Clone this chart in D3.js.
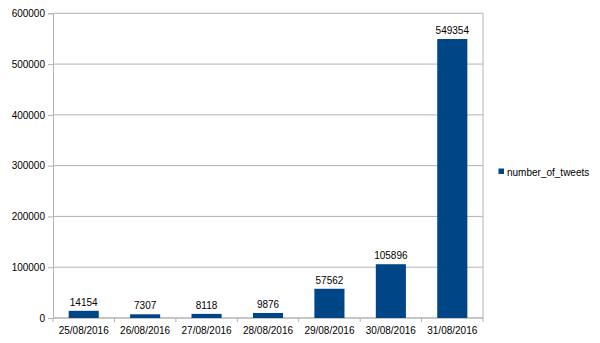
<!DOCTYPE html>
<html><head><meta charset="utf-8">
<script src="https://cdn.jsdelivr.net/npm/d3@7"></script>
<style>body{margin:0;background:#fff}svg{display:block;font-family:"Liberation Sans",Arial,sans-serif}</style>
</head><body><svg id="c" width="600" height="343"></svg>
<script>
const categories = ["25/08/2016","26/08/2016","27/08/2016","28/08/2016","29/08/2016","30/08/2016","31/08/2016"];
const values = [14154, 7307, 8118, 9876, 57562, 105896, 549354];
const yTicks = [0, 100000, 200000, 300000, 400000, 500000, 600000];
const seriesName = "number_of_tweets";

const svg = d3.select("#c");
const L = 53, R = 483, T = 13.3, B = 318;
const x = d3.scaleBand().domain(categories).range([L, R]).paddingInner(0.51).paddingOuter(0.255);
const xc = d3.scaleBand().domain(categories).range([L, R]);
const y = d3.scaleLinear().domain([0, 600000]).range([B, T]);
const grid = "#b3b3b3";

// gridlines
svg.append("g").selectAll("line").data(yTicks).join("line")
  .attr("x1", L).attr("x2", R).attr("y1", d => y(d)).attr("y2", d => y(d))
  .attr("stroke", grid).attr("stroke-width", 1);
// right border
svg.append("line").attr("x1", R).attr("x2", R).attr("y1", T).attr("y2", B).attr("stroke", grid);

// y axis
const ya = d3.axisLeft(y).tickValues(yTicks).tickSize(5).tickPadding(3).tickFormat(d3.format("d"));
const gy = svg.append("g").attr("transform", `translate(${L},0)`).call(ya);
gy.select(".domain").attr("stroke", grid);
gy.selectAll(".tick line").attr("stroke", grid);
gy.selectAll("text").attr("font-size", 10).attr("fill", "#000").attr("font-family", "Liberation Sans, Arial, sans-serif");

// x axis
const gx = svg.append("g").attr("transform", `translate(0,${B})`);
gx.append("line").attr("x1", L).attr("x2", R).attr("stroke", grid);
gx.selectAll("line.t").data(d3.range(categories.length + 1)).join("line").attr("class", "t")
  .attr("x1", i => L + i * xc.step()).attr("x2", i => L + i * xc.step())
  .attr("y1", 0).attr("y2", 4).attr("stroke", grid);
gx.selectAll("text").data(categories).join("text")
  .attr("x", d => xc(d) + xc.bandwidth() / 2).attr("y", 16)
  .attr("text-anchor", "middle").attr("font-size", 10).attr("fill", "#000").text(d => d);

// bars
const data = categories.map((c, i) => ({c, v: values[i]}));
svg.append("g").selectAll("rect").data(data).join("rect")
  .attr("x", d => x(d.c)).attr("width", x.bandwidth())
  .attr("y", d => y(d.v)).attr("height", d => B - y(d.v))
  .attr("fill", "#004586");
svg.append("g").selectAll("text").data(data).join("text")
  .attr("x", d => x(d.c) + x.bandwidth() / 2).attr("y", d => y(d.v) - 5)
  .attr("text-anchor", "middle").attr("font-size", 10).attr("fill", "#000").text(d => d.v);

// legend
svg.append("rect").attr("x", 498.5).attr("y", 168.5).attr("width", 5.5).attr("height", 5.5).attr("fill", "#004586");
svg.append("text").attr("x", 507).attr("y", 175.5).attr("font-size", 10).attr("fill", "#000").text(seriesName);
</script></body></html>
